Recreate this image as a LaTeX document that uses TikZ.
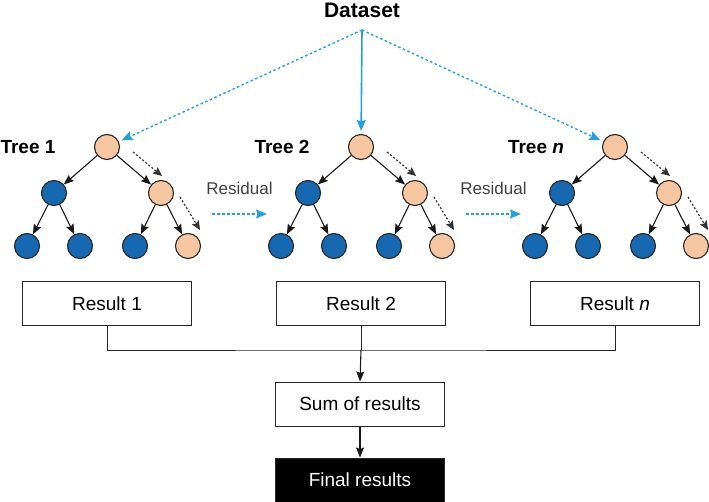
\documentclass[tikz,border=0pt]{standalone}
\usepackage{fontspec}
\setmainfont{Liberation Sans}
\usetikzlibrary{arrows.meta,calc}
\definecolor{leafblue}{RGB}{22,104,176}
\definecolor{peach}{RGB}{246,198,160}
\definecolor{skyblue}{RGB}{35,160,225}

\begin{document}
\begin{tikzpicture}[x=1pt,y=-1pt,
    blue node/.style={circle,draw=black!85,line width=1.1pt,fill=leafblue,minimum size=25pt,inner sep=0pt},
    peach node/.style={blue node,fill=peach},
    branch/.style={-{Stealth[length=10pt,width=8pt,inset=1.5pt]},line width=1.1pt,black!90},
    trail/.style={-{Stealth[length=9pt,width=8pt,inset=1.5pt]},line width=1.2pt,black!80,dash pattern=on 2pt off 2pt},
    feed/.style={-{Stealth[length=11pt,width=9pt,inset=1.5pt]},line width=1.4pt,skyblue,dash pattern=on 2.5pt off 2.5pt,shorten >=3pt},
    result/.style={draw=black!85,line width=1pt,minimum width=169pt,minimum height=44pt,font=\fontsize{19}{22}\selectfont},
    treelabel/.style={font=\fontsize{19}{22}\selectfont\bfseries}]
    \useasboundingbox (0,0) rectangle (709,502);

    % Dataset on top
    \node[font=\fontsize{21}{24}\selectfont\bfseries] (data) at (362,10) {Dataset};
    \coordinate (split) at (362,30);

    % the three trees
    \foreach \t/\x/\nm in {1/0/1,2/254/2,n/508/\textit{n}} {
        \node[treelabel] (tree\t) at (28+\x,147) {Tree \nm};
        \node[peach node] (r\t) at (107+\x,147) {};
        \node[blue node] (a\t) at (54+\x,193) {};
        \node[peach node] (b\t) at (161+\x,193) {};
        \node[blue node] (l\t-1) at (27+\x,246) {};
        \node[blue node] (l\t-2) at (80+\x,246) {};
        \node[blue node] (l\t-3) at (135+\x,246) {};
        \node[peach node] (l\t-4) at (188+\x,246) {};
        \draw[branch] (r\t) -- (a\t);
        \draw[branch] (r\t) -- (b\t);
        \draw[branch] (a\t) -- (l\t-1);
        \draw[branch] (a\t) -- (l\t-2);
        \draw[branch] (b\t) -- (l\t-3);
        \draw[branch] (b\t) -- (l\t-4);
        % path of the residual
        \draw[trail] ($(r\t)+(26,5)$) -- ($(b\t)+(1,-17)$);
        \draw[trail] ($(b\t)+(19,4)$) -- ($(l\t-4)+(12,-16)$);
        % result box
        \node[result] (res\t) at (107+\x,304) {Result \nm};
    }

    % Dataset to trees
    \draw[feed] (split) -- (r1);
    \draw[feed,solid,line width=1.6pt] (split) -- (r2);
    \draw[feed] (split) -- (rn);

    % Residual between trees
    \foreach \p/\q in {1/2,2/n} {
        \draw[feed,shorten >=0pt] ($(l\p-4)+(24,-32)$) -- ($(l\q-1)+(-14,-32)$)
            node[midway,yshift=26pt,text=black!75,font=\fontsize{17}{20}\selectfont] (resid\p) {Residual};
    }

    % Summing up
    \node[result] (sum) at (360,404) {Sum of results};
    \node[result,fill=black,text=white] (final) at (360,480) {Final results};
    \coordinate (join) at (361,350);
    \draw[line width=1pt,black!85] (res1.south) |- (join) -| (resn.south);
    \draw[line width=1pt,black!85] (res2.south) -- (join);
    \draw[branch] (join) -- (sum.north);
    \draw[branch] (sum) -- (final);
\end{tikzpicture}
\end{document}
